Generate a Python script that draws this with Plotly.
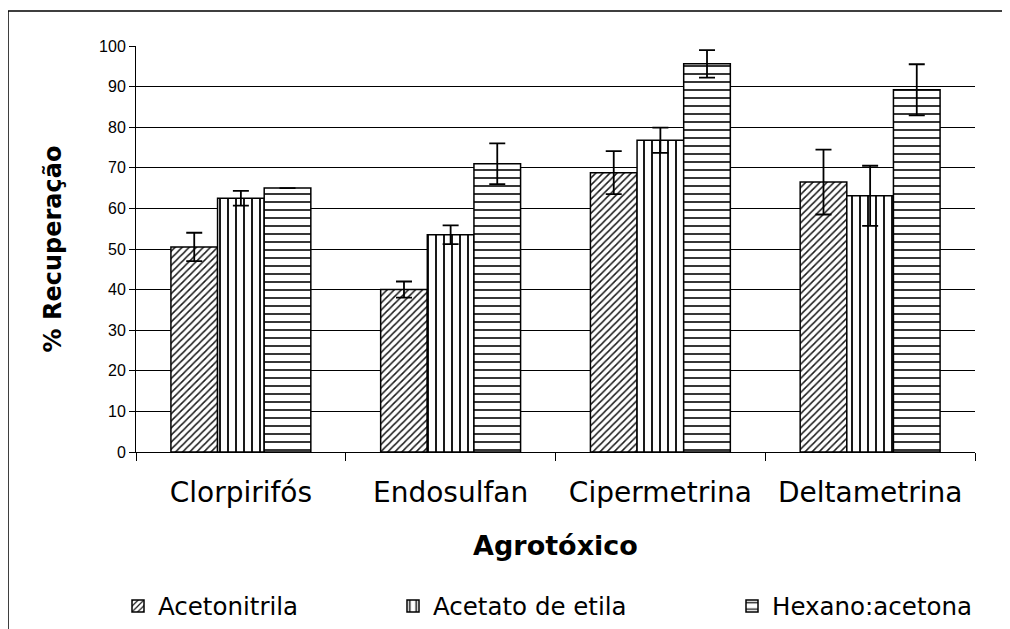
import plotly.graph_objects as go

categories = ["Clorpirifós", "Endosulfan", "Cipermetrina", "Deltametrina"]
series_names = ["Acetonitrila", "Acetato de etila", "Hexano:acetona"]
acetonitrila = [50.5, 40.0, 68.8, 66.5]
acetonitrila_err = [3.5, 2.0, 5.3, 8.0]
acetato = [62.5, 53.5, 76.8, 63.1]
acetato_err = [1.8, 2.3, 3.1, 7.4]
hexano = [65.0, 71.0, 95.6, 89.2]
hexano_err = [None, 5.0, 3.4, 6.3]
y_ticks = [0, 10, 20, 30, 40, 50, 60, 70, 80, 90, 100]

ARIAL = "Liberation Sans, Arial, sans-serif"
WIDE = "DejaVu Sans, sans-serif"
patterns = ["/", "|", "-"]
pattern_sizes = [5, 8, 8]
pattern_solidity = [0.3, 0.25, 0.22]
values = [acetonitrila, acetato, hexano]
errors = [acetonitrila_err, acetato_err, hexano_err]
legend_ids = ["legend", "legend2", "legend3"]

# page body margin offset (browser default 8px)
OFF = 8
# target plot area in page px: x 136..975, y 46..452
L, R, T, B = 136, 975, 46, 452
PW, PH = 1010, 629
pw, ph = R - L, B - T

def px_x(p):
    return (p - L) / pw

def px_y(p):
    return (B - p) / ph

fig = go.Figure()
for name, vals, errs, pat, psz, sol, lid in zip(series_names, values, errors, patterns,
                                                pattern_sizes, pattern_solidity, legend_ids):
    fig.add_trace(go.Bar(
        name=name, x=categories, y=vals, legend=lid,
        marker=dict(color="white",
                    line=dict(color="black", width=1.5),
                    pattern=dict(shape=pat, fgcolor="#1a1a1a", bgcolor="white",
                                 size=psz, solidity=sol)),
        error_y=dict(type="data", array=errs, visible=True,
                     color="black", thickness=1.8, width=8),
    ))

legend_text_x = [155, 430, 769]
leg_common = dict(orientation="h", yanchor="middle", xanchor="left",
                  font=dict(size=24.5, family=WIDE, color="black"),
                  bgcolor="rgba(0,0,0,0)", itemwidth=30)
legends = {}
for lid, tx in zip(legend_ids, legend_text_x):
    legends[lid] = dict(leg_common, x=px_x(tx - 37), y=px_y(606))

fig.update_layout(
    template="none",
    width=PW - OFF, height=PH - OFF,
    margin=dict(l=L - OFF, r=PW - R, t=T - OFF, b=PH - B, pad=0, autoexpand=False),
    paper_bgcolor="white", plot_bgcolor="white",
    font=dict(family=ARIAL, color="black"),
    barmode="group", bargap=0.333, bargroupgap=0,
    showlegend=True,
    xaxis=dict(
        automargin=False,
        showline=True, linecolor="black", linewidth=1,
        ticks="outside", tickson="boundaries", ticklen=8, tickcolor="black",
        tickfont=dict(size=28, family=WIDE, color="black"),
        ticklabelstandoff=15,
        title=dict(text="<b>Agrotóxico</b>", font=dict(size=27, family=WIDE, color="black"),
                   standoff=28),
        showgrid=False, zeroline=False,
    ),
    yaxis=dict(
        automargin=False,
        range=[0, 100], tickvals=y_ticks,
        showline=True, linecolor="black", linewidth=1,
        ticks="outside", ticklen=6, tickcolor="black",
        tickfont=dict(size=16, family=ARIAL, color="black"),
        showgrid=True, gridcolor="black", gridwidth=1,
        title=dict(text="<b>% Recuperação</b>", font=dict(size=24, family=WIDE, color="black"),
                   standoff=30),
        zeroline=False,
    ),
    shapes=[dict(type="rect", xref="paper", yref="paper",
                 x0=px_x(8), x1=px_x(1030), y0=px_y(660), y1=px_y(11),
                 line=dict(color="black", width=1.5), fillcolor="rgba(0,0,0,0)",
                 layer="below")],
    **legends,
)

fig.write_html("out.html")
